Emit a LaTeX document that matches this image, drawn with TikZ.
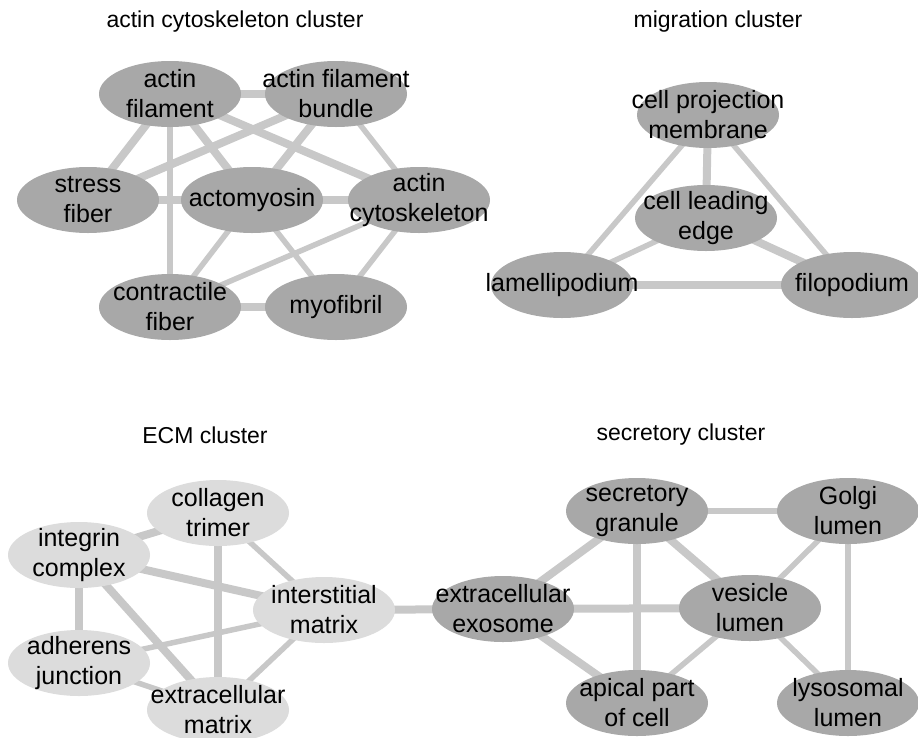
\documentclass[tikz,border=0pt]{standalone}
\usepackage{fontspec}
\setmainfont{Liberation Sans}
\usetikzlibrary{shapes.geometric,backgrounds}
\definecolor{nodedark}{HTML}{A8A8A8}
\definecolor{nodelight}{HTML}{DCDCDC}
\definecolor{edgecol}{HTML}{C8C8C8}
\tikzset{
  lab/.style={align=center, inner sep=0pt, font=\fontsize{25}{30}\selectfont},
  term/.style={ellipse, fill=nodedark, draw=none, inner sep=0pt, minimum width=142pt, minimum height=66pt, label={[lab]center:#1}},
  termlight/.style={term=#1, fill=nodelight},
  title/.style={font=\fontsize{23}{28}\selectfont},
  wide/.style={draw=edgecol, line width=8pt},
  mid/.style={draw=edgecol, line width=5.5pt},
}
\begin{document}
\begin{tikzpicture}[x=1pt,y=-1pt]
\useasboundingbox (0,0) rectangle (918,737);
% titles
\node[title] (t1) at (235,22) {actin cytoskeleton cluster};
\node[title] (t2) at (718,22) {migration cluster};
\node[title] (t3) at (205,435) {ECM cluster};
\node[title] (t4) at (681,435) {secretory cluster};
% actin cluster
\node[term={actin\\filament}] (af) at (170,94) {};
\node[term={actin filament\\bundle}] (afb) at (336,94) {};
\node[term={stress\\fiber}] (sf) at (88,200) {};
\node[term={actomyosin}] (am) at (252,200) {};
\node[term={actin\\cytoskeleton}] (ac) at (419,200) {};
\node[term={contractile\\fiber}] (cf) at (170,307) {};
\node[term={myofibril}] (mf) at (336,307) {};
% migration cluster
\node[term={cell projection\\membrane}] (cpm) at (708,115) {};
\node[term={cell leading\\edge}] (cle) at (706,218) {};
\node[term={lamellipodium}] (lam) at (562,285) {};
\node[term={filopodium}] (fil) at (852,285) {};
% ECM cluster
\node[termlight={collagen\\trimer}] (ct) at (218,513) {};
\node[termlight={integrin\\complex}] (ic) at (79,555) {};
\node[termlight={interstitial\\matrix}] (im) at (324,610) {};
\node[termlight={adherens\\junction}] (aj) at (79,663) {};
\node[termlight={extracellular\\matrix}] (em) at (218,710) {};
% secretory cluster
\node[term={secretory\\granule}] (sg) at (637,511) {};
\node[term={Golgi\\lumen}] (gl) at (848,511) {};
\node[term={extracellular\\exosome}] (ee) at (503,609) {};
\node[term={vesicle\\lumen}] (vl) at (750,608) {};
\node[term={apical part\\of cell}] (ap) at (637,703) {};
\node[term={lysosomal\\lumen}] (ll) at (848,703) {};
\begin{scope}[on background layer]
% actin edges
\draw[wide] (af.center) -- (afb.center);
\draw[wide] (af.center) -- (sf.center);
\draw[wide] (af.center) -- (am.center);
\draw[wide] (af.center) -- (ac.center);
\draw[mid] (af.center) -- (cf.center);
\draw[wide] (afb.center) -- (sf.center);
\draw[wide] (afb.center) -- (am.center);
\draw[mid] (afb.center) -- (ac.center);
\draw[wide] (sf.center) -- (am.center);
\draw[wide] (am.center) -- (ac.center);
\draw[mid] (am.center) -- (cf.center);
\draw[mid] (am.center) -- (mf.center);
\draw[mid] (ac.center) -- (cf.center);
\draw[mid] (ac.center) -- (mf.center);
\draw[wide] (cf.center) -- (mf.center);
% migration edges
\draw[wide] (cpm.center) -- (cle.center);
\draw[mid] (cpm.center) -- (lam.center);
\draw[mid] (cpm.center) -- (fil.center);
\draw[mid] (cle.center) -- (lam.center);
\draw[wide] (cle.center) -- (fil.center);
\draw[wide] (lam.center) -- (fil.center);
% ECM edges
\draw[wide] (ic.center) -- (ct.center);
\draw[wide] (ic.center) -- (im.center);
\draw[wide] (ic.center) -- (aj.center);
\draw[wide] (ic.center) -- (em.center);
\draw[mid] (ct.center) -- (im.center);
\draw[wide] (ct.center) -- (em.center);
\draw[mid] (aj.center) -- (im.center);
\draw[mid] (aj.center) -- (em.center);
\draw[mid] (im.center) -- (em.center);
\draw[wide] (im.center) -- (ee.center);
% secretory edges
\draw[mid] (sg.center) -- (gl.center);
\draw[wide] (sg.center) -- (ee.center);
\draw[wide] (sg.center) -- (ap.center);
\draw[wide] (sg.center) -- (vl.center);
\draw[mid] (gl.center) -- (vl.center);
\draw[mid] (gl.center) -- (ll.center);
\draw[wide] (ee.center) -- (vl.center);
\draw[wide] (ee.center) -- (ap.center);
\draw[mid] (vl.center) -- (ap.center);
\draw[mid] (vl.center) -- (ll.center);
\end{scope}
\end{tikzpicture}
\end{document}
